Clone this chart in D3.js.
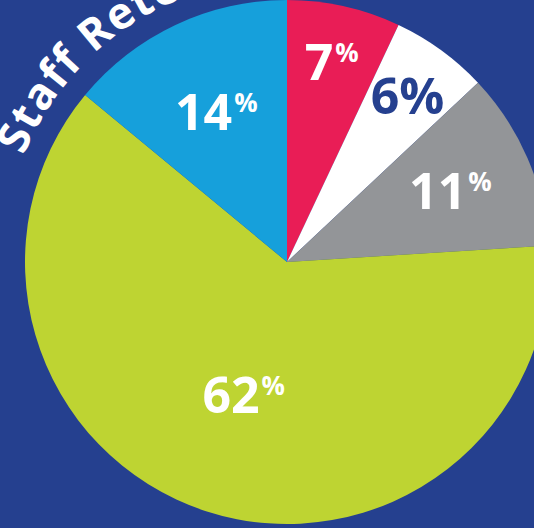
<!DOCTYPE html>
<html>
<head>
<meta charset="utf-8">
<script src="https://cdn.jsdelivr.net/npm/d3@7"></script>
<style>
  html, body { margin: 0; padding: 0; background: #25408f; overflow: hidden; }
  svg { display: block; }
  text { font-family: "Open Sans", "Noto Sans", sans-serif; font-weight: 700; }
</style>
</head>
<body>
<div id="chart"></div>
<script>
// ----- DATA -----
const categories = ["Red", "White", "Gray", "Green", "Blue"];
const values = [7, 6, 11, 62, 14];
const colors = ["#e91d56", "#ffffff", "#939598", "#bed432", "#16a0db"];
const labelColors = ["#ffffff", "#25408f", "#ffffff", "#ffffff", "#ffffff"];
const title = "Staff Retention";

const width = 534, height = 528;
const cx = 287, cy = 262, radius = 262;

// label distance from centre per slice (layout only)
const labelRadius = [205, 205, 178, 140, 166];
// "6%" keeps a full size percent sign, the others are raised and small
const smallPct = [true, false, true, true, true];

const svg = d3.select("#chart").append("svg")
    .attr("width", width)
    .attr("height", height);

const g = svg.append("g").attr("transform", `translate(${cx},${cy})`);

const pie = d3.pie().sort(null).value(d => d.value);
const arc = d3.arc().innerRadius(0).outerRadius(radius);

const data = categories.map((c, i) => ({ name: c, value: values[i], i }));
const arcs = pie(data);

// SLICES
g.selectAll("path.slice")
    .data(arcs)
    .enter().append("path")
    .attr("class", "slice")
    .attr("d", arc)
    .attr("fill", d => colors[d.data.i]);

// LABELS
const label = g.selectAll("text.label")
    .data(arcs)
    .enter().append("text")
    .attr("class", "label")
    .attr("text-anchor", "middle")
    .attr("fill", d => labelColors[d.data.i])
    .attr("transform", d => {
        const r = labelRadius[d.data.i];
        const c = d3.arc().innerRadius(r).outerRadius(r).centroid(d);
        return `translate(${c[0]},${c[1]})`;
    })
    .attr("dy", "0.36em")
    .style("font-size", "50px");

label.append("tspan").text(d => d.data.value);
label.append("tspan")
    .text("%")
    .style("font-size", d => smallPct[d.data.i] ? "26px" : "50px")
    .attr("dy", d => smallPct[d.data.i] ? "-0.7em" : null)
    .attr("dx", d => smallPct[d.data.i] ? "2" : null);

// CURVED TITLE
const tr = 284;
const a0 = -78 * Math.PI / 180, a1 = 80 * Math.PI / 180;
const p0 = [tr * Math.sin(a0), -tr * Math.cos(a0)];
const p1 = [tr * Math.sin(a1), -tr * Math.cos(a1)];
g.append("path")
    .attr("id", "titlePath")
    .attr("fill", "none")
    .attr("d", `M${p0[0]},${p0[1]} A${tr},${tr} 0 0 1 ${p1[0]},${p1[1]}`);

g.append("text")
    .attr("fill", "#ffffff")
    .style("font-size", "44px")
    .style("letter-spacing", "1.5px")
    .append("textPath")
    .attr("href", "#titlePath")
    .attr("startOffset", 10 * Math.PI / 180 * tr)
    .text(title);
</script>
</body>
</html>
